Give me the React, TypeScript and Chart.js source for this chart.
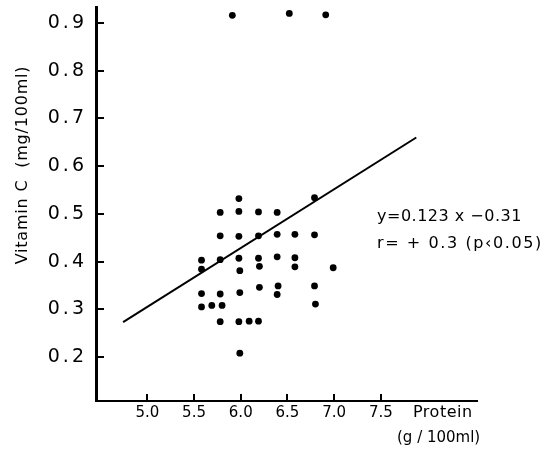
import React, { useEffect, useRef } from 'react';
import { Chart, registerables } from 'chart.js';

Chart.register(...registerables);

// Protein (g/100ml) of each sample
const proteinX = [
  5.58, 5.58, 5.58, 5.58,
  5.69,
  5.78, 5.78, 5.78, 5.78, 5.80, 5.78,
  5.98, 5.98, 5.98, 5.98, 5.99, 5.99, 5.98, 5.99,
  6.09,
  6.19, 6.19, 6.19, 6.20, 6.20, 6.19,
  6.39, 6.39, 6.39, 6.40, 6.39,
  6.58, 6.58, 6.58,
  6.79, 6.79, 6.79, 6.80,
  6.99,
  5.91, 6.52, 6.91,
];

// Vitamin C (mg/100ml) of each sample
const vitaminC = [
  0.403, 0.384, 0.333, 0.305,
  0.308,
  0.503, 0.454, 0.404, 0.332, 0.308, 0.274,
  0.532, 0.505, 0.453, 0.407, 0.381, 0.335, 0.274, 0.208,
  0.275,
  0.504, 0.454, 0.407, 0.390, 0.346, 0.275,
  0.503, 0.457, 0.410, 0.349, 0.331,
  0.457, 0.408, 0.389,
  0.534, 0.456, 0.349, 0.311,
  0.387,
  0.916, 0.920, 0.917,
];

// Regression line end points
const fitX = [4.74, 7.88];
const fitY = [0.273, 0.66];

const xTicks = [5.0, 5.5, 6.0, 6.5, 7.0, 7.5];
const yTicks = [0.2, 0.3, 0.4, 0.5, 0.6, 0.7, 0.8, 0.9];

const xTitle = ['Protein', '(g / 100ml)'];
const yTitle = 'Vitamin C  (mg/100ml)';
const equationLines = ['y=0.123 x \u22120.31', 'r= + 0.3 (p\u20390.05)'];

const FONT = '"DejaVu Sans", "Liberation Sans", sans-serif';

const textPlugin = {
  id: 'figureTexts',
  beforeDraw(chart: any) {
    chart.ctx.letterSpacing = '0px';
  },
  afterDatasetsDraw(chart: any) {
    // y tick labels (drawn after datasets, z=1) are spaced wider
    chart.ctx.letterSpacing = '3px';
  },
  afterDraw(chart: any) {
    const ctx = chart.ctx as CanvasRenderingContext2D;
    const area = chart.chartArea;
    const xs = chart.scales.x;
    const ys = chart.scales.y;
    ctx.save();
    (ctx as any).letterSpacing = '0px';
    ctx.fillStyle = '#000';

    // inward tick marks
    xs.ticks.forEach((t: any) => {
      const px = Math.round(xs.getPixelForValue(t.value));
      ctx.fillRect(px - 1, area.bottom - 7, 2, 7);
    });
    ys.ticks.forEach((t: any) => {
      const py = Math.round(ys.getPixelForValue(t.value));
      ctx.fillRect(area.left, py - 1, 8, 2);
    });

    // regression annotation
    ctx.font = `16px ${FONT}`;
    ctx.textAlign = 'left';
    ctx.textBaseline = 'middle';
    (ctx as any).letterSpacing = '0.5px';
    ctx.fillText(equationLines[0], area.right - 100, 217);
    (ctx as any).letterSpacing = '1.6px';
    ctx.fillText(equationLines[1], area.right - 100, 244);

    // x axis title
    (ctx as any).letterSpacing = '0.5px';
    ctx.font = `16px ${FONT}`;
    ctx.fillText(xTitle[0], area.right - 64, 413);
    (ctx as any).letterSpacing = '0px';
    ctx.font = `15px ${FONT}`;
    ctx.fillText(xTitle[1], area.right - 80, 438);

    // y axis title
    ctx.translate(23, 165);
    ctx.rotate(-Math.PI / 2);
    ctx.textAlign = 'center';
    ctx.font = `16px ${FONT}`;
    (ctx as any).letterSpacing = '0.8px';
    ctx.fillText(yTitle, 0, 0);
    ctx.restore();
  },
};

export default function App() {
  const ref = useRef<HTMLCanvasElement | null>(null);

  useEffect(() => {
    if (!ref.current) return;
    const points = proteinX.map((x, i) => ({ x, y: vitaminC[i] }));
    const fit = fitX.map((x, i) => ({ x, y: fitY[i] }));

    const chart = new Chart(ref.current, {
      type: 'scatter',
      data: {
        datasets: [
          {
            label: 'Samples',
            data: points,
            pointRadius: 3.4,
            pointBackgroundColor: '#000',
            pointBorderWidth: 0,
            showLine: false,
          },
          {
            label: 'Regression',
            data: fit,
            showLine: true,
            borderColor: '#000',
            borderWidth: 2,
            pointRadius: 0,
          },
        ],
      },
      options: {
        responsive: false,
        animation: false,
        devicePixelRatio: 1,
        layout: { padding: { top: 7, right: 66, left: 0, bottom: 0 } },
        plugins: {
          legend: { display: false },
          tooltip: { enabled: false },
          title: { display: false },
        },
        scales: {
          x: {
            type: 'linear',
            position: 'bottom',
            min: 4.45,
            max: 8.53,
            afterBuildTicks: (s: any) => {
              s.ticks = xTicks.map((v) => ({ value: v }));
            },
            afterFit: (s: any) => {
              s.height = 50;
              s.paddingLeft = 0;
              s.paddingRight = 0;
            },
            grid: { drawOnChartArea: false, drawTicks: false },
            border: { display: true, color: '#000', width: 2 },
            ticks: {
              color: '#000',
              font: { family: FONT, size: 15 },
              padding: 3,
              maxRotation: 0,
              autoSkip: false,
              callback: (v: any) => Number(v).toFixed(1),
            },
          },
          y: {
            type: 'linear',
            position: 'left',
            min: 0.1078,
            max: 0.9335,
            afterBuildTicks: (s: any) => {
              s.ticks = yTicks.map((v) => ({ value: v }));
            },
            afterFit: (s: any) => {
              s.width = 96;
              s.paddingTop = 0;
              s.paddingBottom = 0;
            },
            grid: { drawOnChartArea: false, drawTicks: false },
            border: { display: true, color: '#000', width: 3 },
            ticks: {
              z: 1,
              color: '#000',
              font: { family: FONT, size: 19 },
              padding: 9,
              autoSkip: false,
              callback: (v: any) => Number(v).toFixed(1),
            },
          },
        },
      },
      plugins: [textPlugin],
    } as any);

    return () => chart.destroy();
  }, []);

  return (
    <div style={{ position: 'fixed', left: 0, top: 0, width: 543, height: 451, background: '#fff' }}>
      <canvas ref={ref} width={543} height={451} style={{ width: 543, height: 451, display: 'block' }} />
    </div>
  );
}
